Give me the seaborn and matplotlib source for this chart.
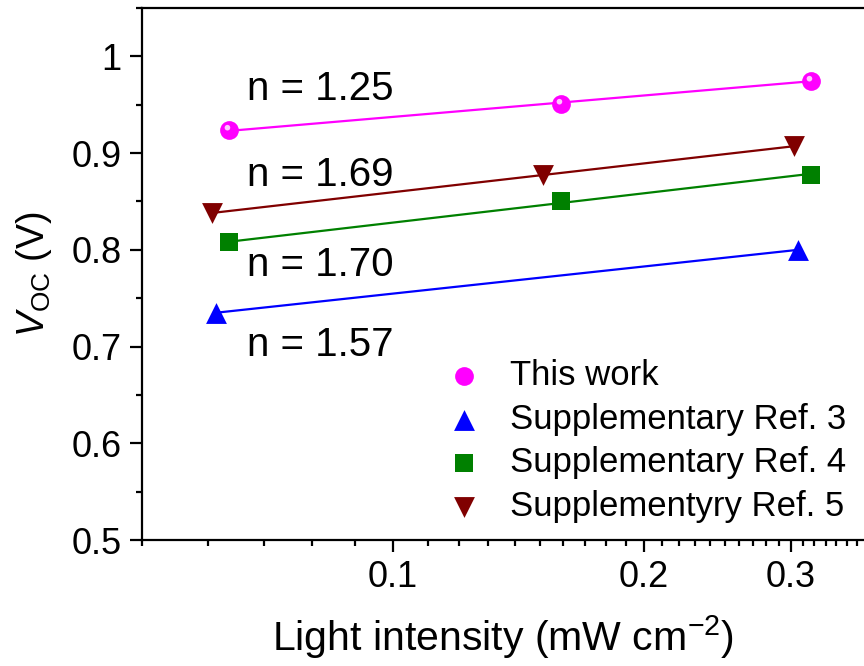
import numpy as np
import pandas as pd
import matplotlib
matplotlib.use("Agg")
import matplotlib.pyplot as plt
from matplotlib.path import Path
from matplotlib.ticker import FixedLocator, NullFormatter, MultipleLocator
import seaborn as sns

# Voc vs light intensity, four devices, log x
series_names = ["This work", "Supplementary Ref. 3", "Supplementary Ref. 4", "Supplementyry Ref. 5"]
x_this = [0.0636, 0.159, 0.317]
y_this = [0.9235, 0.951, 0.975]
x_ref3 = [0.0614, 0.306]
y_ref3 = [0.735, 0.800]
x_ref4 = [0.0636, 0.159, 0.317]
y_ref4 = [0.8077, 0.850, 0.8777]
x_ref5 = [0.0606, 0.1513, 0.3023]
y_ref5 = [0.838, 0.8775, 0.907]
n_labels = ["n = 1.25", "n = 1.69", "n = 1.70", "n = 1.57"]
n_label_y = [0.955, 0.866, 0.773, 0.690]

colors = ["#FF00FF", "#0000FF", "#008000", "#800000"]
markers = ["o", "^", "s", "v"]
msizes = [13.5, 15, 12.5, 15]

sns.set_style("ticks")
plt.rcParams["font.family"] = ["Liberation Sans", "DejaVu Sans"]
plt.rcParams["mathtext.fontset"] = "custom"
plt.rcParams["mathtext.rm"] = "Liberation Sans"
plt.rcParams["mathtext.it"] = "Liberation Sans:italic"
plt.rcParams["text.color"] = "black"
plt.rcParams["axes.labelcolor"] = "black"
plt.rcParams["xtick.color"] = "black"
plt.rcParams["ytick.color"] = "black"

fig = plt.figure(figsize=(8.64, 6.66), dpi=100)
ax = fig.add_axes([142 / 864, 126 / 666, 722 / 864, 532 / 666])

xs = [x_this, x_ref3, x_ref4, x_ref5]
ys = [y_this, y_ref3, y_ref4, y_ref5]

for xv, yv, c, m, ms, name in zip(xs, ys, colors, markers, msizes, series_names):
    # linear fit of Voc against log(I)
    k, b = np.polyfit(np.log10(xv), yv, 1)
    fx = np.array([min(xv), max(xv)])
    fy = k * np.log10(fx) + b
    sns.lineplot(x=fx, y=fy, color=c, lw=1.6, ax=ax, legend=False)
    sns.scatterplot(x=xv, y=yv, color=c, marker=m, s=ms ** 2, edgecolor=c,
                    linewidth=0, ax=ax, label=name, zorder=3)

# little glossy spot on the "sphere" markers (offset circle inside a unit box)
circ = Path.circle(center=(-0.22, 0.3), radius=0.3)
verts = np.vstack([[[1, 1]], [[-1, -1]], circ.vertices])
codes = np.concatenate([[Path.MOVETO, Path.MOVETO], circ.codes])
shine = Path(verts, codes)
sns.scatterplot(x=x_this, y=y_this, marker=shine, s=msizes[0] ** 2,
                color="#FFC8FF", linewidth=0, ax=ax, zorder=4, legend=False)

ax.set_xscale("log")
ax.set_xlim(0.05, 0.367)
ax.set_ylim(0.5, 1.05)

ax.xaxis.set_major_locator(FixedLocator([0.1, 0.2, 0.3]))
ax.xaxis.set_major_formatter(plt.FixedFormatter(["0.1", "0.2", "0.3"]))
minors = [v / 100 for v in range(5, 37) if v not in (10, 20, 30)]
ax.xaxis.set_minor_locator(FixedLocator(minors))
ax.xaxis.set_minor_formatter(NullFormatter())
ax.yaxis.set_minor_locator(MultipleLocator(0.05))
ax.set_yticks([0.5, 0.6, 0.7, 0.8, 0.9, 1.0])
ax.set_yticklabels(["0.5", "0.6", "0.7", "0.8", "0.9", "1"])

for sp in ax.spines.values():
    sp.set_linewidth(1.6)
    sp.set_color("black")
ax.spines["right"].set_visible(False)
ax.tick_params(which="major", direction="out", length=8.5, width=1.6,
               labelsize=26, pad=6, top=False, right=False)
ax.tick_params(which="minor", direction="out", length=4.3, width=1.6,
               top=False, right=False)

for lab, ly in zip(n_labels, n_label_y):
    ax.text(0.0668, ly, lab, fontsize=29, va="baseline", ha="left")

ax.set_xlabel(r"Light intensity (mW cm$^{-2}$)", fontsize=29.5, labelpad=13)
ax.set_ylabel(r"$V_{\mathrm{OC}}$ (V)", fontsize=27, labelpad=13)

leg = ax.legend(loc="lower right", bbox_to_anchor=(1.0, 0.0), frameon=False,
                fontsize=25, handletextpad=0.35, labelspacing=0.3,
                borderaxespad=0.1, markerscale=1.0)

fig.savefig("out.png", dpi=100)
